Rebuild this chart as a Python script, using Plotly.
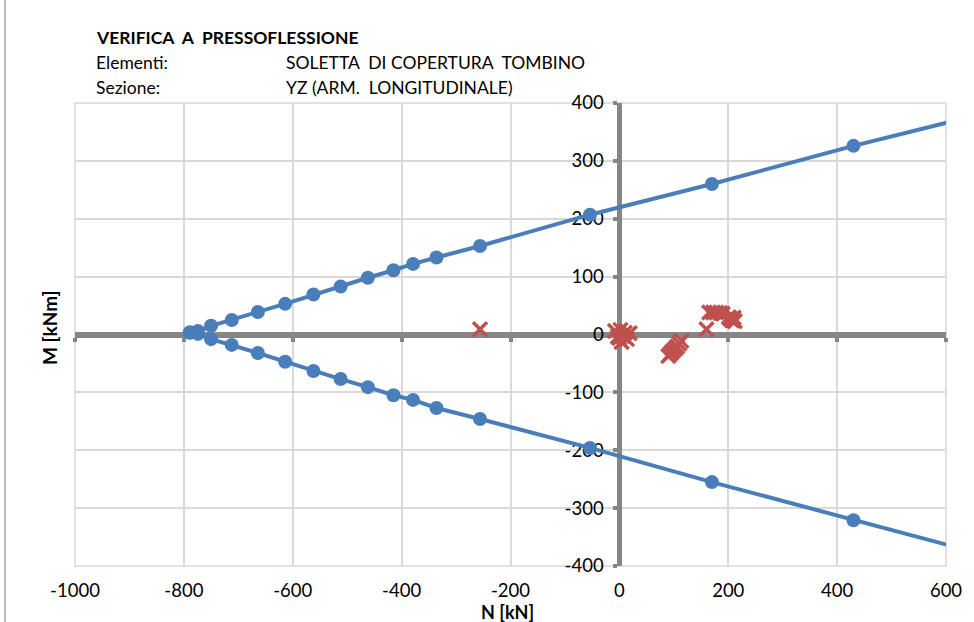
import plotly.graph_objects as go

# Interaction domain boundary (N [kN], M [kNm])
n_dom = [-789, -774, -750, -712, -664, -614, -562, -512, -462, -415, -379, -336, -256, -54, 170, 430, 700]
m_dom_pos = [4, 6, 15, 25, 39, 53, 69, 83, 98, 111, 122, 133, 153, 207, 260, 326, 389]
m_dom_neg = [3, 1, -8, -18, -32, -47, -63, -77, -91, -105, -113, -127, -146, -196, -255, -321, -388]

# Design actions (N_Ed, M_Ed)
n_ed = [-256, -8, -3, 2, 6, 10, 14, 19, 4, 0, 90, 94, 98, 102, 106, 110, 114,
        160, 165, 172, 178, 185, 190, 201, 204, 207, 210, 212]
m_ed = [9, 6, -4, 8, -2, 3, -8, 2, -13, -6, -37, -33, -29, -25, -21, -16, -11,
        9, 38, 38, 38, 37, 36, 30, 27, 24, 29, 23]

x_ticks = [-1000, -800, -600, -400, -200, 0, 200, 400, 600]
y_ticks = [-400, -300, -200, -100, 0, 100, 200, 300, 400]

BLUE = "#4A7EBB"
RED = "#C0504D"
AXIS = "#868686"
GRID = "#D9D9D9"
FONT = "Lato"

fig = go.Figure()
for m in (m_dom_pos, m_dom_neg):
    fig.add_trace(go.Scatter(
        x=n_dom, y=m, mode="lines+markers",
        line=dict(color=BLUE, width=4),
        marker=dict(color=BLUE, size=14),
        hoverinfo="x+y",
    ))
fig.add_trace(go.Scatter(
    x=n_ed, y=m_ed, mode="markers",
    marker=dict(symbol="x-thin", size=14, line=dict(color=RED, width=3.5)),
    hoverinfo="x+y",
))
# empty trace so the horizontal axis through M = 0 is rendered
fig.add_trace(go.Scatter(x=[], y=[], xaxis="x2", yaxis="y", showlegend=False))

L, R, T, B = 75, 28, 103, 56
W, H = 974, 622
pw, ph = W - L - R, H - T - B


def px(x):
    return (x - L) / pw


def py(y):
    return (H - B - y) / ph


fig.update_layout(
    width=W, height=H,
    margin=dict(l=L, r=R, t=T, b=B),
    paper_bgcolor="white", plot_bgcolor="white",
    showlegend=False,
    font=dict(family=FONT, size=18.5, color="black"),
    xaxis=dict(
        range=[-1000, 600], tickvals=x_ticks, ticktext=[str(v) for v in x_ticks],
        showgrid=True, gridcolor=GRID, gridwidth=1.5,
        showline=False, zeroline=False, ticks="",
        ticklabelstandoff=11, tickfont=dict(size=18.5),
        layer="below traces",
    ),
    xaxis2=dict(
        overlaying="x", range=[-1000, 600], tickvals=x_ticks,
        anchor="free", position=0.5,
        showgrid=False, zeroline=False, showticklabels=False,
        showline=True, linecolor=AXIS, linewidth=5,
        ticks="outside", ticklen=4, tickwidth=4, tickcolor=AXIS,
        layer="below traces",
    ),
    yaxis=dict(
        range=[-400, 400], tickvals=y_ticks, ticktext=[str(v) for v in y_ticks],
        anchor="free", position=0.625,
        showgrid=True, gridcolor=GRID, gridwidth=1.5,
        zeroline=True, zerolinecolor=AXIS, zerolinewidth=5,
        showline=True, linecolor=AXIS, linewidth=5,
        ticks="outside", ticklen=4, tickwidth=4, tickcolor=AXIS,
        ticklabelstandoff=6, tickfont=dict(size=18.5),
        layer="below traces",
    ),
)

# Plot-area outline in gridline colour
fig.add_shape(type="rect", xref="paper", yref="paper", x0=0, x1=1, y0=0, y1=1,
              line=dict(color=GRID, width=1.5), layer="below")

# Header block
header = [
    ("<b>VERIFICA  A  PRESSOFLESSIONE</b>", 94, 37),
    ("Elementi:", 94, 62),
    ("SOLETTA  DI COPERTURA  TOMBINO", 284, 62),
    ("Sezione:", 94, 87),
    ("YZ (ARM.  LONGITUDINALE)", 284, 87),
]
for text, x, y in header:
    fig.add_annotation(
        text=text.replace("  ", "\u00a0 "), xref="paper", yref="paper",
        x=px(x), y=py(y), xanchor="left", yanchor="middle",
        showarrow=False, font=dict(size=17.5, family=FONT),
    )

# Axis titles
fig.add_annotation(text="<b>N [kN]</b>", xref="paper", yref="paper",
                   x=px(507), y=py(612), xanchor="center", yanchor="middle",
                   showarrow=False, font=dict(size=18, family=FONT))
fig.add_annotation(text="<b>M [kNm]</b>", xref="paper", yref="paper",
                   x=px(49), y=py(328), xanchor="center", yanchor="middle",
                   textangle=-90, showarrow=False, font=dict(size=19, family=FONT))

# Chart-area frame edge
fig.add_shape(type="line", xref="paper", yref="paper",
              x0=px(5), x1=px(5), y0=py(0), y1=py(622),
              line=dict(color="#A6A6A6", width=1.5))

fig.write_html("out.html")
